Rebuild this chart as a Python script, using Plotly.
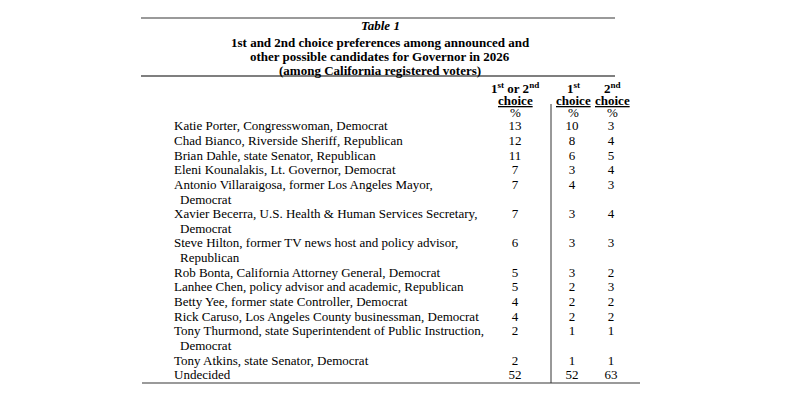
import plotly.graph_objects as go

title_lines = [
    "<b><i>Table 1</i></b>",
    "<b>1st and 2nd choice preferences among announced and</b>",
    "<b>other possible candidates for Governor in 2026</b>",
    "<b>(among California registered voters)</b>",
]
col_heads = ["<b>1<sup>st</sup> or 2<sup>nd</sup></b>", "<b>1<sup>st</sup></b>", "<b>2<sup>nd</sup></b>"]
col_sub = ["<b><u>choice</u></b>", "<b><u>choice</u></b>", "<b><u>choice</u></b>"]
col_unit = ["%", "%", "%"]

candidates = [
    "Katie Porter, Congresswoman, Democrat",
    "Chad Bianco, Riverside Sheriff, Republican",
    "Brian Dahle, state Senator, Republican",
    "Eleni Kounalakis, Lt. Governor, Democrat",
    "Antonio Villaraigosa, former Los Angeles Mayor,|Democrat",
    "Xavier Becerra, U.S. Health & Human Services Secretary,|Democrat",
    "Steve Hilton, former TV news host and policy advisor,|Republican",
    "Rob Bonta, California Attorney General, Democrat",
    "Lanhee Chen, policy advisor and academic, Republican",
    "Betty Yee, former state Controller, Democrat",
    "Rick Caruso, Los Angeles County businessman, Democrat",
    "Tony Thurmond, state Superintendent of Public Instruction,|Democrat",
    "Tony Atkins, state Senator, Democrat",
    "Undecided",
]
first_or_second = [13, 12, 11, 7, 7, 7, 6, 5, 5, 4, 4, 2, 2, 52]
first_choice = [10, 8, 6, 3, 4, 3, 3, 3, 2, 2, 2, 1, 1, 52]
second_choice = [3, 4, 5, 4, 3, 4, 3, 2, 3, 2, 2, 1, 1, 63]

FONT = "Liberation Serif, Times New Roman, serif"
FS = 13
ROW0 = 127
STEP = 14.65
X_LABEL = 174
X_INDENT = 180
X_COLS = [515, 572, 611]
X_HEADS = [515, 573, 612]
OFF = 8  # page body margin compensation

# lay out lines
lab_x, lab_y, lab_t = [], [], []
num_y = []
line = 0
for name in candidates:
    parts = name.split("|")
    y = ROW0 + line * STEP
    num_y.append(y)
    lab_x.append(X_LABEL); lab_y.append(y); lab_t.append(parts[0])
    line += 1
    for p in parts[1:]:
        lab_x.append(X_INDENT); lab_y.append(ROW0 + line * STEP); lab_t.append(p)
        line += 1

fig = go.Figure()
fig.add_trace(go.Scatter(
    x=lab_x, y=lab_y, text=lab_t, mode="text", textposition="middle right",
    textfont=dict(family=FONT, size=FS, color="#000"), hoverinfo="skip", showlegend=False))
for xc, vals in zip(X_COLS, [first_or_second, first_choice, second_choice]):
    fig.add_trace(go.Scatter(
        x=[xc] * len(vals), y=num_y, text=[str(v) for v in vals], mode="text",
        textposition="middle center",
        textfont=dict(family=FONT, size=FS, color="#000"), hoverinfo="skip", showlegend=False))

# title
title_y = [25, 42, 56, 70]
for t, y in zip(title_lines, title_y):
    fig.add_annotation(x=380, y=y, text=t, showarrow=False, xref="x", yref="y",
                       font=dict(family=FONT, size=FS, color="#000"), xanchor="center", yanchor="middle")
# column headers
for xc, h, s, u in zip(X_HEADS, col_heads, col_sub, col_unit):
    fig.add_annotation(x=xc, y=88, text=h, showarrow=False, font=dict(family=FONT, size=FS, color="#000"))
    fig.add_annotation(x=xc, y=100, text=s, showarrow=False, font=dict(family=FONT, size=FS, color="#000"))
    fig.add_annotation(x=xc, y=112, text=u, showarrow=False, font=dict(family=FONT, size=FS, color="#000"))

# rules
fig.add_shape(type="line", x0=141, x1=615, y0=18, y1=18, line=dict(color="#9a9a9a", width=2))
fig.add_shape(type="line", x0=141, x1=615, y0=76, y1=76, line=dict(color="#555", width=1.5))
fig.add_shape(type="line", x0=142, x1=640, y0=383, y1=383, line=dict(color="#9a9a9a", width=2))
fig.add_shape(type="line", x0=551, x1=551, y0=104, y1=383, line=dict(color="#333", width=1))

fig.update_layout(
    width=800, height=400, margin=dict(l=0, r=0, t=0, b=0),
    paper_bgcolor="white", plot_bgcolor="white",
    xaxis=dict(range=[OFF, 800 + OFF], visible=False, fixedrange=True),
    yaxis=dict(range=[400 + OFF, OFF], visible=False, fixedrange=True),
)
fig.write_html("out.html")
